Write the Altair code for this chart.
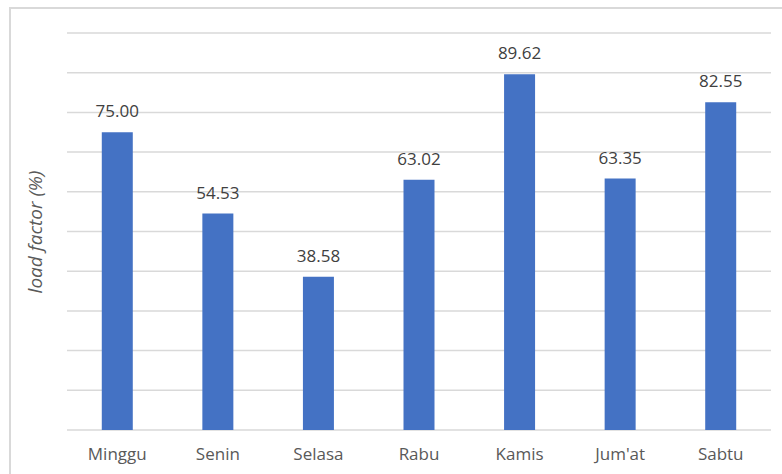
import altair as alt
import pandas as pd

days = ["Minggu", "Senin", "Selasa", "Rabu", "Kamis", "Jum'at", "Sabtu"]
load_factor = [75.00, 54.53, 38.58, 63.02, 89.62, 63.35, 82.55]
grid_values = [0, 10, 20, 30, 40, 50, 60, 70, 80, 90, 100]

df = pd.DataFrame({"hari": days, "lf": load_factor})
df["label"] = df["lf"].map(lambda v: f"{v:.2f}")
grid_df = pd.DataFrame({"g": grid_values})

FONT = "Open Sans"

x = alt.X(
    "hari:N",
    sort=days,
    title=None,
    scale=alt.Scale(paddingInner=0, paddingOuter=0),
    axis=alt.Axis(
        labelAngle=0, labelFont=FONT, labelFontSize=17, labelColor="#595959",
        labelPadding=16, ticks=False, domain=False, grid=False,
    ),
)
y = alt.Y(
    "lf:Q",
    title="load factor (%)",
    scale=alt.Scale(domain=[0, 100], nice=False),
    axis=alt.Axis(
        labels=False, ticks=False, domain=False, grid=False,
        titleFont=FONT, titleFontSize=19, titleFontStyle="italic",
        titleFontWeight="normal", titleColor="#595959", titlePadding=22,
    ),
)

# horizontal gridlines every 10 units
grid = alt.Chart(grid_df).mark_rule(color="#d9d9d9", strokeWidth=1.5).encode(
    y=alt.Y("g:Q", scale=alt.Scale(domain=[0, 100], nice=False)),
    x=alt.value(0), x2=alt.value(704),
)

bars = alt.Chart(df).mark_bar(size=31, color="#4472C4").encode(x=x, y=y)

labels = alt.Chart(df).mark_text(
    font=FONT, fontSize=17, color="#404040", dy=-20, baseline="middle"
).encode(x=alt.X("hari:N", sort=days), y="lf:Q", text="label:N")

frame = alt.Chart(df).mark_rect(
    fill=None, stroke="#d9d9d9", strokeWidth=2, clip=False
).encode(
    x=alt.value(-57), x2=alt.value(800), y=alt.value(-25), y2=alt.value(500)
)

chart = (
    alt.layer(frame, grid, bars, labels)
    .properties(
        width=704, height=397,
        padding={"left": 67, "top": 33, "right": 11, "bottom": 44},
        autosize=alt.AutoSizeParams(type="none"),
        background="white",
    )
    .configure_view(stroke=None)
)

chart.save("out.html", embed_options={"renderer": "svg", "actions": False})
